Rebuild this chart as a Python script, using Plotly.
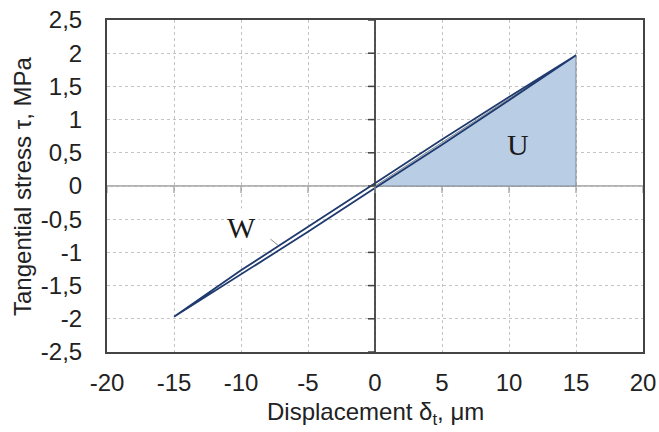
import plotly.graph_objects as go

# Hysteresis loop: loading branch then unloading branch (displacement µm, stress MPa)
loop_x = [-15, -10, -5, 0, 5, 10, 15, 10, 5, 0, -5, -10, -15]
loop_y = [-1.97, -1.33, -0.69, -0.03, 0.62, 1.29, 1.97, 1.34, 0.70, 0.04, -0.61, -1.27, -1.97]

# Elastic energy triangle U
u_x = [0, 15, 15, 0]
u_y = [0, 1.97, 0, 0]

x_ticks = [-20, -15, -10, -5, 0, 5, 10, 15, 20]
x_tick_text = ["-20", "-15", "-10", "-5", "0", "5", "10", "15", "20"]
y_ticks = [-2.5, -2, -1.5, -1, -0.5, 0, 0.5, 1, 1.5, 2, 2.5]
y_tick_text = ["-2,5", "-2", "-1,5", "-1", "-0,5", "0", "0,5", "1", "1,5", "2", "2,5"]

fig = go.Figure()

fig.add_trace(go.Scatter(
    x=u_x, y=u_y, mode="lines", fill="toself",
    fillcolor="#b9cde5", line=dict(color="#7f8790", width=1),
    hoverinfo="skip", showlegend=False,
))

fig.add_trace(go.Scatter(
    x=loop_x, y=loop_y, mode="lines",
    line=dict(color="#1f3a6e", width=1.8),
    showlegend=False,
))

shapes = []
# zero axes
shapes.append(dict(type="line", xref="x", yref="y", x0=-20, x1=20, y0=0, y1=0,
                   line=dict(color="#9a9a9a", width=1.5), layer="below"))
shapes.append(dict(type="line", xref="x", yref="y", x0=0, x1=0, y0=-2.5, y1=2.5,
                   line=dict(color="#404040", width=1.8)))
# tick marks on the zero axes
for yv in y_ticks:
    shapes.append(dict(type="line", xref="x", yref="y", xsizemode="pixel", xanchor=0,
                       x0=-7, x1=0, y0=yv, y1=yv, line=dict(color="#404040", width=1.5)))
for xv in x_ticks:
    shapes.append(dict(type="line", xref="x", yref="y", ysizemode="pixel", yanchor=0,
                       x0=xv, x1=xv, y0=-7, y1=0, line=dict(color="#9a9a9a", width=1.2)))
# leader line for W
shapes.append(dict(type="line", xref="x", yref="y", x0=-7.8, y0=-0.8, x1=-7.25, y1=-0.89,
                   line=dict(color="#8a8a8a", width=1)))

annotations = [
    dict(x=-10.0, y=-0.62, xref="x", yref="y", text="W", showarrow=False,
         bgcolor="white", borderpad=2,
         font=dict(family="Liberation Serif", size=30, color="#1a1a1a")),
    dict(x=10.7, y=0.62, xref="x", yref="y", text="U", showarrow=False,
         font=dict(family="Liberation Serif", size=30, color="#1a1a1a")),
    # axis titles
    dict(x=0.5, y=0, xref="paper", yref="paper", yshift=-61, yanchor="middle",
         text="Displacement δ<sub>t</sub>, μm", showarrow=False,
         font=dict(family="Liberation Sans", size=24, color="#222222")),
    dict(x=0, y=0.5, xref="paper", yref="paper", xshift=-85, xanchor="center",
         text="Tangential stress τ, MPa", showarrow=False, textangle=-90,
         font=dict(family="Liberation Sans", size=24, color="#222222")),
]

fig.update_layout(
    width=659, height=432,
    margin=dict(l=107, r=16, t=20, b=80),
    paper_bgcolor="white", plot_bgcolor="white",
    font=dict(family="Liberation Sans", size=24, color="#222222"),
    shapes=shapes, annotations=annotations,
    xaxis=dict(
        range=[-20, 20], tickvals=x_ticks, ticktext=x_tick_text, ticks="",
        ticklabelstandoff=8, automargin=False,
        showgrid=True, gridcolor="#c4c4c4", griddash="dot", gridwidth=1,
        zeroline=False, showline=True, linecolor="#444444", linewidth=2, mirror=True,
        tickfont=dict(family="Liberation Sans", size=24),
    ),
    yaxis=dict(
        range=[-2.5, 2.5], tickvals=y_ticks, ticktext=y_tick_text, ticks="",
        ticklabelstandoff=18, automargin=False,
        showgrid=True, gridcolor="#c4c4c4", griddash="dot", gridwidth=1,
        zeroline=False, showline=True, linecolor="#444444", linewidth=2, mirror=True,
        tickfont=dict(family="Liberation Sans", size=24),
    ),
)

fig.write_html("out.html")
